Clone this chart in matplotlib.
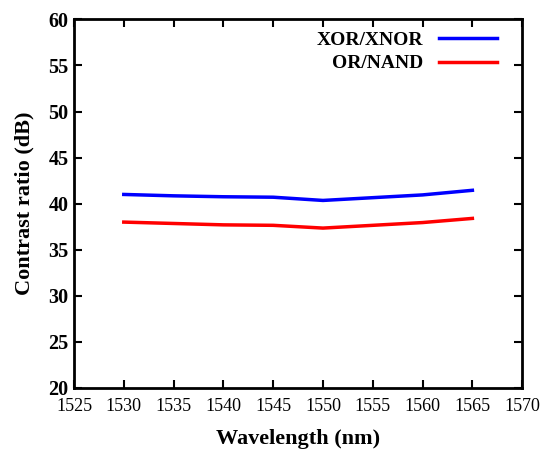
import matplotlib
matplotlib.use("Agg")
import matplotlib.pyplot as plt

wavelength = [1530, 1535, 1540, 1545, 1550, 1555, 1560, 1565]
xor_xnor = [41.0, 40.85, 40.75, 40.7, 40.35, 40.65, 40.95, 41.45]
or_nand = [38.0, 37.85, 37.7, 37.65, 37.35, 37.65, 37.95, 38.4]
xticks = list(range(1525, 1571, 5))
yticks = list(range(20, 61, 5))

plt.rcParams['font.family'] = ['Liberation Serif']
fig = plt.figure(figsize=(5.4, 4.54), dpi=100)
ax = fig.add_axes([0.137, 0.1454, 0.830, 0.812])
ax.plot(wavelength, xor_xnor, color='#0000ff', lw=2.5, label='XOR/XNOR')
ax.plot(wavelength, or_nand, color='#ff0000', lw=2.5, label='OR/NAND')
ax.set_xlim(1525, 1570)
ax.set_ylim(20, 60)
ax.set_xticks(xticks)
ax.set_yticks(yticks)
ax.tick_params(direction='in', top=True, right=True, length=6, width=1.5, labelsize=13)
ax.tick_params(axis='x', pad=7)
ax.tick_params(axis='y', labelsize=14.5, pad=4)
for lab in ax.get_yticklabels():
    lab.set_fontweight('bold')
for s in ax.spines.values():
    s.set_linewidth(2)
ax.set_xlabel('Wavelength (nm)', fontsize=16, fontweight='bold', labelpad=10)
ax.set_ylabel('Contrast ratio (dB)', fontsize=16, fontweight='bold', labelpad=10)
leg = ax.legend(loc='upper right', markerfirst=False, frameon=False,
                prop={'size': 14, 'weight': 'bold'},
                handlelength=3.0, borderaxespad=0.3, borderpad=0.2, labelspacing=0.3,
                handletextpad=0.8, bbox_to_anchor=(0.966, 0.994))
for t in leg.get_texts():
    t.set_ha('right')
fig.savefig('out.png', dpi=100)
